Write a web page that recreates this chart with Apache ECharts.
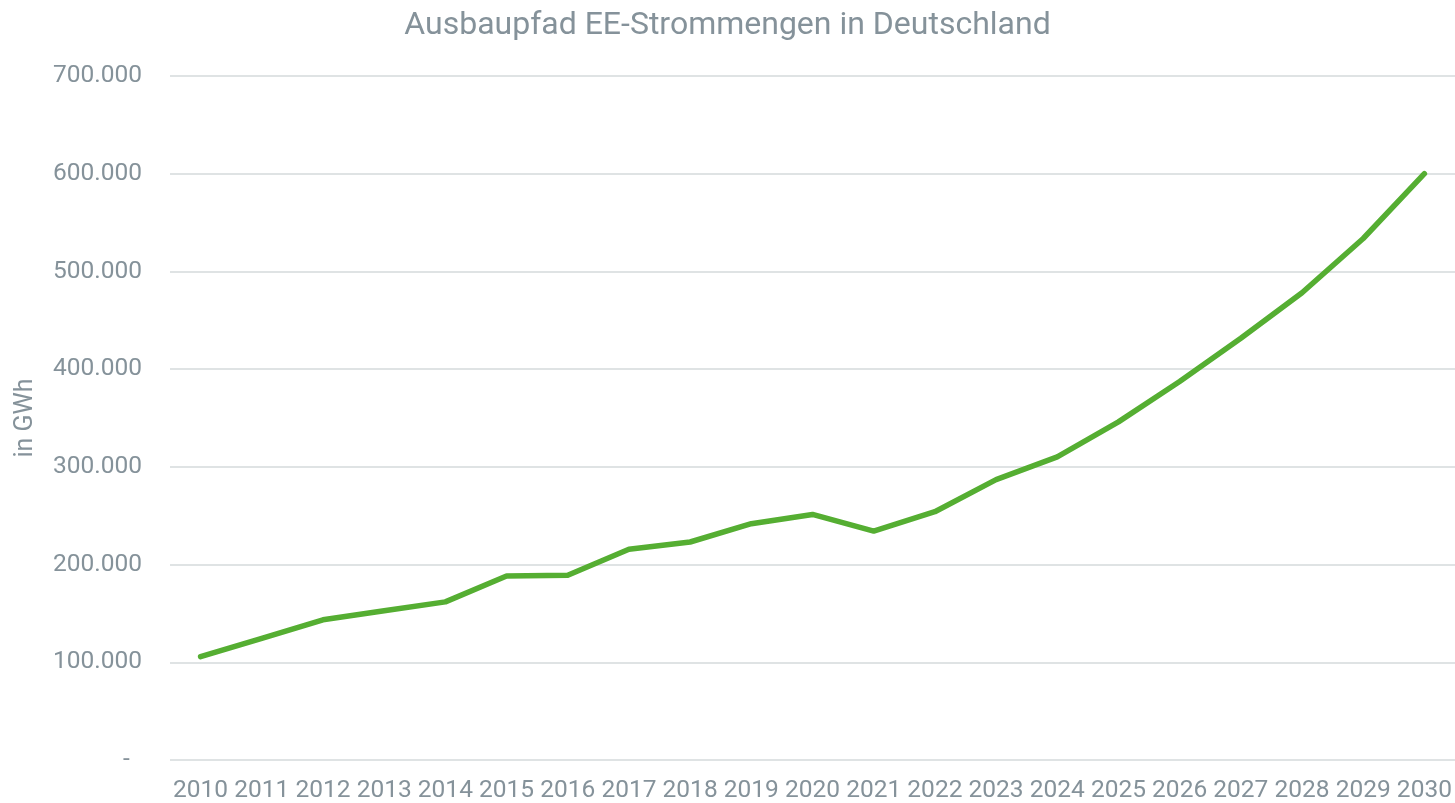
<!DOCTYPE html>
<html>
<head>
<meta charset="utf-8">
<title>Ausbaupfad EE-Strommengen in Deutschland</title>
<script src="https://cdn.jsdelivr.net/npm/echarts@6/dist/echarts.min.js"></script>
<style>
  html, body { margin: 0; padding: 0; background: #fff; }
  #chart { width: 1455px; height: 803px; }
</style>
</head>
<body>
<div id="chart"></div>
<script>
const years = ['2010', '2011', '2012', '2013', '2014', '2015', '2016', '2017', '2018', '2019', '2020',
  '2021', '2022', '2023', '2024', '2025', '2026', '2027', '2028', '2029', '2030']
const strommengen = [105700, 124500, 143500, 152700, 161800, 188400, 189100, 215600, 223100, 241800, 251300,
  234300, 254100, 287000, 310200, 346000, 387400, 431600, 478200, 533700, 600000]

const TEXT = '#85929a'
const FONT = 'Roboto'

function formatGWh(v) {
  if (v === 0) return '-  '
  return String(v).replace(/\B(?=(\d{3})+(?!\d))/g, '.')
}

const chart = echarts.init(document.getElementById('chart'))
chart.setOption({
  animation: false,
  title: {
    text: 'Ausbaupfad EE-Strommengen in Deutschland',
    left: 'center',
    top: 5,
    textStyle: { color: TEXT, fontFamily: FONT, fontSize: 32, fontWeight: 'normal' },
  },
  grid: { left: 170, top: 76, width: 1287, bottom: 40, containLabel: false },
  xAxis: {
    type: 'category',
    data: years,
    boundaryGap: true,
    axisLine: { show: false },
    axisTick: { show: false },
    axisLabel: { color: TEXT, fontFamily: FONT, fontSize: 24.5, margin: 18, interval: 0 },
  },
  yAxis: {
    type: 'value',
    min: 0,
    max: 700000,
    interval: 100000,
    name: 'in GWh',
    nameLocation: 'middle',
    nameGap: 132,
    nameTextStyle: { color: TEXT, fontFamily: FONT, fontSize: 25 },
    axisLine: { show: false },
    axisTick: { show: false },
    axisLabel: { color: TEXT, fontFamily: FONT, fontSize: 24.5, margin: 28, formatter: formatGWh },
    splitLine: { lineStyle: { color: '#dfe3e4', width: 2 } },
  },
  series: [{
    type: 'line',
    data: strommengen,
    symbol: 'none',
    lineStyle: { color: '#55ae32', width: 5.5, cap: 'round', join: 'round' },
  }],
})
</script>
</body>
</html>
